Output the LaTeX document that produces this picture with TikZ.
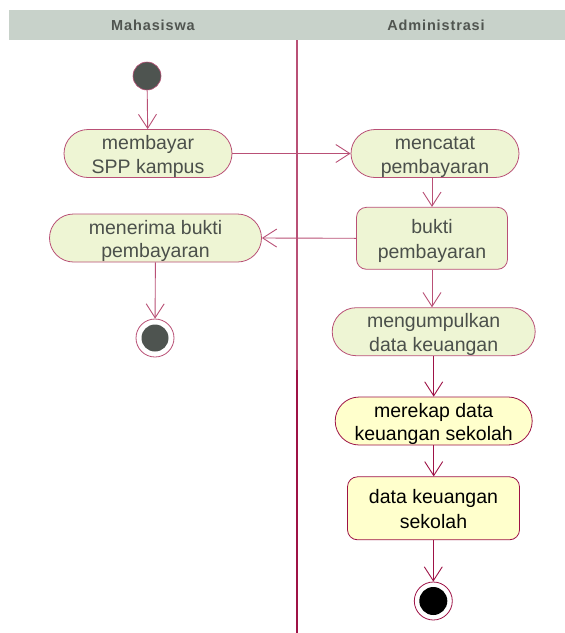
\documentclass[tikz,border=0pt]{standalone}
\usepackage{fontspec}
\setmainfont{Liberation Sans}
\newfontfamily\lanefont[LetterSpace=6]{Liberation Sans}
\usetikzlibrary{arrows.meta}

% palette: washed-out upper part, full colour lower part
\definecolor{edgeDim}{RGB}{185,80,118}
\definecolor{edgeRed}{RGB}{158,18,70}
\definecolor{fillDim}{RGB}{238,245,212}
\definecolor{fillYel}{RGB}{255,255,204}
\definecolor{textDim}{RGB}{75,80,75}
\definecolor{laneGrey}{RGB}{200,210,202}
\definecolor{laneText}{RGB}{80,85,80}
\definecolor{dotDim}{RGB}{78,84,80}

\tikzset{
  % a fixed text height sits the two-line labels a little low, as in UML tools
  actbox/.style={draw, rounded corners=24pt, minimum height=48pt, align=center,
    inner sep=0pt, line width=0.8pt, font=\fontsize{19.5}{23.5}\selectfont,
    text height=43pt, text depth=4pt},
  objbox/.style={draw, rounded corners=10pt, align=center,
    inner sep=0pt, line width=0.8pt, font=\fontsize{19.5}{24.5}\selectfont,
    text height=44pt, text depth=4pt},
  dim/.style={draw=edgeDim, fill=fillDim, text=textDim},
  full/.style={draw=edgeRed, fill=fillYel, text=black},
  flow/.style={-{Straight Barb[length=14pt,width=18pt]}, line width=0.9pt},
  lane/.style={font=\lanefont\bfseries\fontsize{14.5}{17}\selectfont, text=laneText},
}

\begin{document}
\begin{tikzpicture}[x=1pt,y=-1pt]
\useasboundingbox (0,0) rectangle (565,633);
\fill[white] (0,0) rectangle (565,633);

% swimlane header and separator
\fill[laneGrey] (9,10) rectangle (565,40);
\node[lane] (laneA) at (153,25) {Mahasiswa};
\node[lane] (laneB) at (436,25) {Administrasi};
\draw[edgeDim, line width=1.1pt] (297,40) -- (297,370);
\draw[edgeRed, line width=1.1pt] (297,370) -- (297,633);

% Mahasiswa lane
\node[circle, fill=dotDim, draw=edgeDim, line width=0.6pt, minimum size=28pt, inner sep=0pt] (start) at (147,76) {};
\node[actbox, dim, minimum width=168pt] (bayar) at (148,153.5) {membayar\\SPP kampus};
\node[actbox, dim, minimum width=212pt] (terima) at (155.5,238) {menerima bukti\\pembayaran};
\node[circle, draw=edgeDim, fill=white, line width=0.8pt, minimum size=38pt, inner sep=0pt] (endA) at (155,338) {};
\node[circle, fill=dotDim, minimum size=27pt, inner sep=0pt] (endAdot) at (endA) {};

% Administrasi lane
\node[actbox, dim, minimum width=168pt] (catat) at (435,153.5) {mencatat\\pembayaran};
\node[objbox, dim, minimum width=151pt, minimum height=62pt] (bukti) at (432,238.3) {bukti\\pembayaran};
\node[actbox, dim, minimum width=203pt] (kumpul) at (433.7,331.7) {mengumpulkan\\data keuangan};
\node[actbox, full, minimum width=197pt] (rekap) at (433.7,421) {merekap data\\keuangan sekolah};
\node[objbox, full, minimum width=172pt, minimum height=63pt] (dataku) at (433.5,508.3) {data keuangan\\sekolah};
\node[circle, draw=edgeRed, fill=white, line width=0.8pt, minimum size=38pt, inner sep=0pt] (endB) at (433.3,601) {};
\node[circle, fill=black, minimum size=28pt, inner sep=0pt] (endBdot) at (endB) {};

% transitions
\draw[flow, edgeDim] (start) -- (bayar);
\draw[flow, edgeDim] (bayar) -- (catat);
\draw[flow, edgeDim] (catat.south -| bukti.north) -- (bukti.north);
\draw[flow, edgeDim] (bukti.west) -- (terima.east);
\draw[flow, edgeDim] (terima) -- (endA);
\draw[flow, edgeDim] (bukti.south) -- (bukti.south |- kumpul.north);
\draw[flow, edgeRed] (kumpul) -- (kumpul.south |- rekap.north);
\draw[flow, edgeRed] (rekap) -- (rekap.south |- dataku.north);
\draw[flow, edgeRed] (dataku.south -| endB) -- (endB);
\end{tikzpicture}
\end{document}
